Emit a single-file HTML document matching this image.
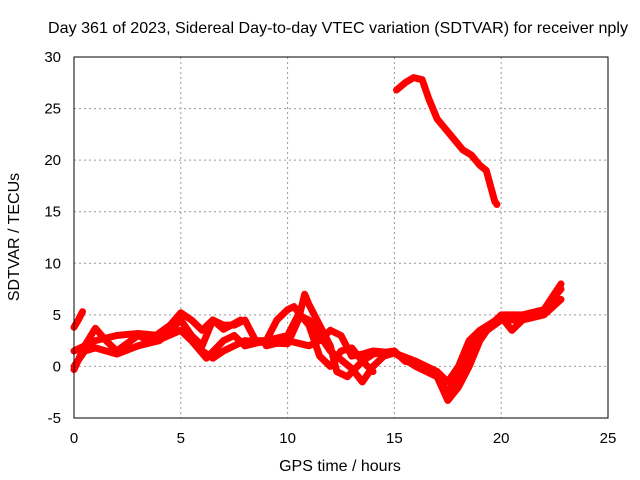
<!DOCTYPE html>
<html><head><meta charset="utf-8"><style>
body{margin:0;background:#fff}
svg{display:block;font-family:"Liberation Sans",sans-serif;font-size:15px}
</style></head><body>
<svg id="chart" width="640" height="480" viewBox="0 0 640 480">
<text x="338" y="33" text-anchor="middle" font-size="16" textLength="580" lengthAdjust="spacingAndGlyphs">Day 361 of 2023, Sidereal Day-to-day VTEC variation (SDTVAR) for receiver nply</text>
<text x="340" y="471" text-anchor="middle" font-size="16">GPS time / hours</text>
<text transform="translate(19,237) rotate(-90)" text-anchor="middle" font-size="16">SDTVAR / TECUs</text>
<g id="grid"></g><g id="ticks"></g><g id="series"></g>
<rect x="74" y="57" width="534" height="361" fill="none" stroke="#000" stroke-width="1"/>
</svg>
<script>
const xTicks=[0,5,10,15,20,25];
const yTicks=[-5,0,5,10,15,20,25,30];
const trackA=[[15.1,26.8],[15.5,27.5],[15.9,28],[16.3,27.8],[16.6,26],[17,24],[17.4,23],[17.8,22],[18.2,21],[18.6,20.5],[19,19.5],[19.3,19],[19.5,17.5],[19.7,16],[19.8,15.7]];
const track1=[[0,0],[0.5,1.5],[1,1.8],[2,1.2],[3,2],[4,2.6],[5,3.5],[5.5,2.5],[6,1.5],[6.5,0.8],[7,1.5],[8,2.5],[9,2.3],[10,2.2],[10.5,4.5],[10.8,7],[11,6],[11.5,4],[12,2],[12.3,-0.5],[12.8,-1],[13.5,0.5],[14,1.2],[15,1.5],[15.5,0.5],[16,0.3],[17,-1],[17.5,-3.3],[18,-2],[18.5,0],[19,2.5],[19.5,4],[20,5],[21,5],[22,5.5],[22.8,7.5]];
const track2=[[0,-0.3],[0.5,2],[1,3.7],[1.5,2.5],[2,1.5],[3,3],[3.5,2.5],[4.5,4],[5,5.2],[5.5,4.5],[6,3.5],[6.5,4.5],[7,3.6],[7.8,4.5]];
const track3=[[0,1.5],[1,2.5],[2,3],[3,3.2],[4,3],[5,3.5],[5.5,2.5],[6.2,0.8],[7,2.5],[7.5,3],[8,2],[9,2.5],[10,3],[10.5,5],[11,4.5],[11.5,3],[12,1.5],[13,-0.2],[13.5,-1.5],[14,0],[14.5,1],[15,1.3],[16,0],[17,-1],[17.5,-2.5],[18,-1],[18.5,1.5],[19,3],[20,4.5],[21,4.5],[22,5.5],[22.8,8]];
const track4=[[0,3.8],[0.2,4.5],[0.4,5.3]];
const track5=[[3,2],[4,2.5],[5,4.5],[5.5,3],[6,2],[6.5,4.5],[7,4],[7.5,4],[8,4.5],[8.5,2.5],[9,2.5],[9.5,4.5],[10,5.5],[10.3,5.8],[10.6,5],[11,4],[11.5,1],[12,0],[12.5,1.5],[13,1.8],[13.5,0.5],[14,-0.5]];
const track6=[[9,2],[10,2.5],[11,2],[11.5,2.5],[12,3.5],[12.5,3],[13,1],[13.5,1.2],[14,1.5],[15,1.3],[16,0.5],[17,-0.5],[17.5,-1.5],[18,0],[18.5,2.5],[19,3.5],[20,4.8],[20.5,3.5],[21,4.5],[22,5],[22.8,6.5]];
const tracks=[trackA,track1,track2,track3,track4,track5,track6];
const X=h=>74+h*534/25;
const Y=v=>57+(30-v)*361/35;
const NS="http://www.w3.org/2000/svg";
const grid=document.getElementById('grid'),ticks=document.getElementById('ticks'),ser=document.getElementById('series');
function mk(tag,attrs,parent){const e=document.createElementNS(NS,tag);for(const k in attrs)e.setAttribute(k,attrs[k]);parent.appendChild(e);return e;}
xTicks.forEach(t=>{
 if(t>0&&t<25){const g=mk('line',{x1:X(t),x2:X(t),y1:57,y2:418,stroke:'#999','stroke-dasharray':'2,3'},grid);
 
 }
 const l=mk('text',{x:X(t),y:443,'text-anchor':'middle'},ticks);l.textContent=t;
 
 
});
yTicks.forEach(t=>{
 if(t>-5&&t<30){const g=mk('line',{x1:74,x2:608,y1:Y(t),y2:Y(t),stroke:'#999','stroke-dasharray':'2,3'},grid);
 
 }
 const l=mk('text',{x:61,y:Y(t)+5,'text-anchor':'end'},ticks);l.textContent=t;
 
 
});
tracks.forEach((tr,i)=>{
 const p=mk('polyline',{points:tr.map(d=>X(d[0])+','+Y(d[1])).join(' '),fill:'none',stroke:'#f00','stroke-width':7,'stroke-linejoin':'round','stroke-linecap':'round'},ser);
 
 
});
</script>
</body></html>
